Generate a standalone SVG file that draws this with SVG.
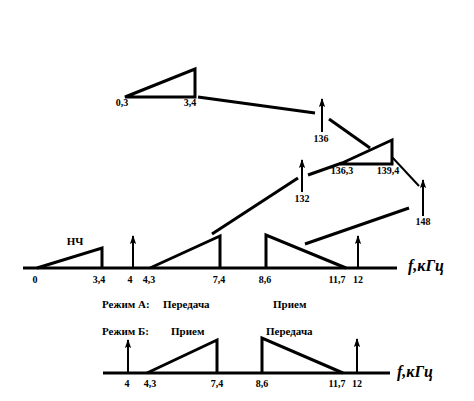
<svg xmlns="http://www.w3.org/2000/svg" width="474" height="401" viewBox="0 0 474 401">
<defs>
<marker id="ah" viewBox="0 0 10 7" markerWidth="9" markerHeight="7" refX="9" refY="3.5" orient="auto" markerUnits="userSpaceOnUse">
<path d="M0,0 L10,3.5 L0,7 L2,3.5 z" fill="#000"/>
</marker>
</defs>
<style>
.t{font-family:"Liberation Serif","DejaVu Serif",serif;font-weight:bold;font-size:10px;fill:#000;text-anchor:middle}
.m{font-family:"Liberation Serif","DejaVu Serif",serif;font-weight:bold;font-size:11px;fill:#000}
.f{font-family:"Liberation Serif","DejaVu Serif",serif;font-weight:bold;font-style:italic;font-size:16px;fill:#000}
.tri{fill:none;stroke:#000;stroke-width:3;stroke-linejoin:miter}
.ax{stroke:#000;stroke-width:3}
.ar{stroke:#000;stroke-width:2;marker-end:url(#ah)}
.c{stroke:#000;stroke-width:3;fill:none}
.c2{stroke:#000;stroke-width:2;fill:none}
</style>
<rect width="474" height="401" fill="#fff"/>

<g id="connectors">
<line class="c" x1="198" y1="97" x2="315" y2="113"/>
<line class="c" x1="329" y1="119" x2="370" y2="148"/>
<line class="c2" x1="392" y1="157" x2="419" y2="186"/>
<line class="c" x1="212" y1="234" x2="298" y2="178"/>
<line class="c" x1="308" y1="175" x2="342" y2="163"/>
<line class="c" x1="305" y1="244" x2="409" y2="208"/>
</g>

<g id="tri-top">
<path class="tri" d="M125,97 L195,69 L195,97 Z"/>
<text class="t" x="122" y="106">0,3</text>
<text class="t" x="190" y="106">3,4</text>
</g>

<g id="arrow-136">
<line class="ar" x1="322" y1="132" x2="322" y2="99"/>
<text class="t" x="321" y="142">136</text>
</g>

<g id="tri-mid">
<path class="tri" d="M340,164 L392,140 L392,164 Z"/>
<text class="t" x="342" y="174">136,3</text>
<text class="t" x="388" y="174">139,4</text>
</g>

<g id="arrow-132">
<line class="ar" x1="302" y1="192" x2="302" y2="160"/>
<text class="t" x="302" y="202">132</text>
</g>

<g id="arrow-148">
<line class="ar" x1="423" y1="216" x2="423" y2="180"/>
<text class="t" x="423" y="225">148</text>
</g>

<g id="axis-1">
<line class="ax" x1="23" y1="268" x2="397" y2="268"/>
<text class="f" x="408" y="271">f,кГц</text>
<text class="t" x="35" y="283">0</text>
<text class="t" x="99" y="283">3,4</text>
<text class="t" x="130" y="283">4</text>
<text class="t" x="149" y="283">4,3</text>
<text class="t" x="219" y="283">7,4</text>
<text class="t" x="265" y="283">8,6</text>
<text class="t" x="337" y="283">11,7</text>
<text class="t" x="358" y="283">12</text>
</g>

<g id="nch">
<path class="tri" d="M37,268 L102,248 L102,268"/>
<text class="t" x="75" y="245" style="font-size:11px">НЧ</text>
</g>

<g id="arrow-4a">
<line class="ar" x1="133" y1="268" x2="133" y2="236"/>
</g>

<g id="tri-a1">
<path class="tri" d="M150,268 L220,236 L220,268"/>
</g>

<g id="tri-a2">
<path class="tri" d="M266,268 L266,235 L346,268"/>
</g>

<g id="arrow-12a">
<line class="ar" x1="358" y1="268" x2="358" y2="236"/>
</g>

<g id="modes">
<text class="m" x="102" y="308">Режим А:</text>
<text class="m" x="163" y="308">Передача</text>
<text class="m" x="273" y="308">Прием</text>
<text class="m" x="102" y="335">Режим Б:</text>
<text class="m" x="171" y="335">Прием</text>
<text class="m" x="266" y="335">Передача</text>
</g>

<g id="axis-2">
<line class="ax" x1="103" y1="373" x2="390" y2="373"/>
<text class="f" x="397" y="377">f,кГц</text>
<text class="t" x="127" y="387">4</text>
<text class="t" x="150" y="387">4,3</text>
<text class="t" x="217" y="387">7,4</text>
<text class="t" x="262" y="387">8,6</text>
<text class="t" x="337" y="387">11,7</text>
<text class="t" x="357" y="387">12</text>
</g>

<g id="arrow-4b">
<line class="ar" x1="128" y1="373" x2="128" y2="340"/>
</g>

<g id="tri-b1">
<path class="tri" d="M147,373 L217,340 L217,373"/>
</g>

<g id="tri-b2">
<path class="tri" d="M262,373 L262,338 L343,373"/>
</g>

<g id="arrow-12b">
<line class="ar" x1="357" y1="373" x2="357" y2="339"/>
</g>
</svg>
